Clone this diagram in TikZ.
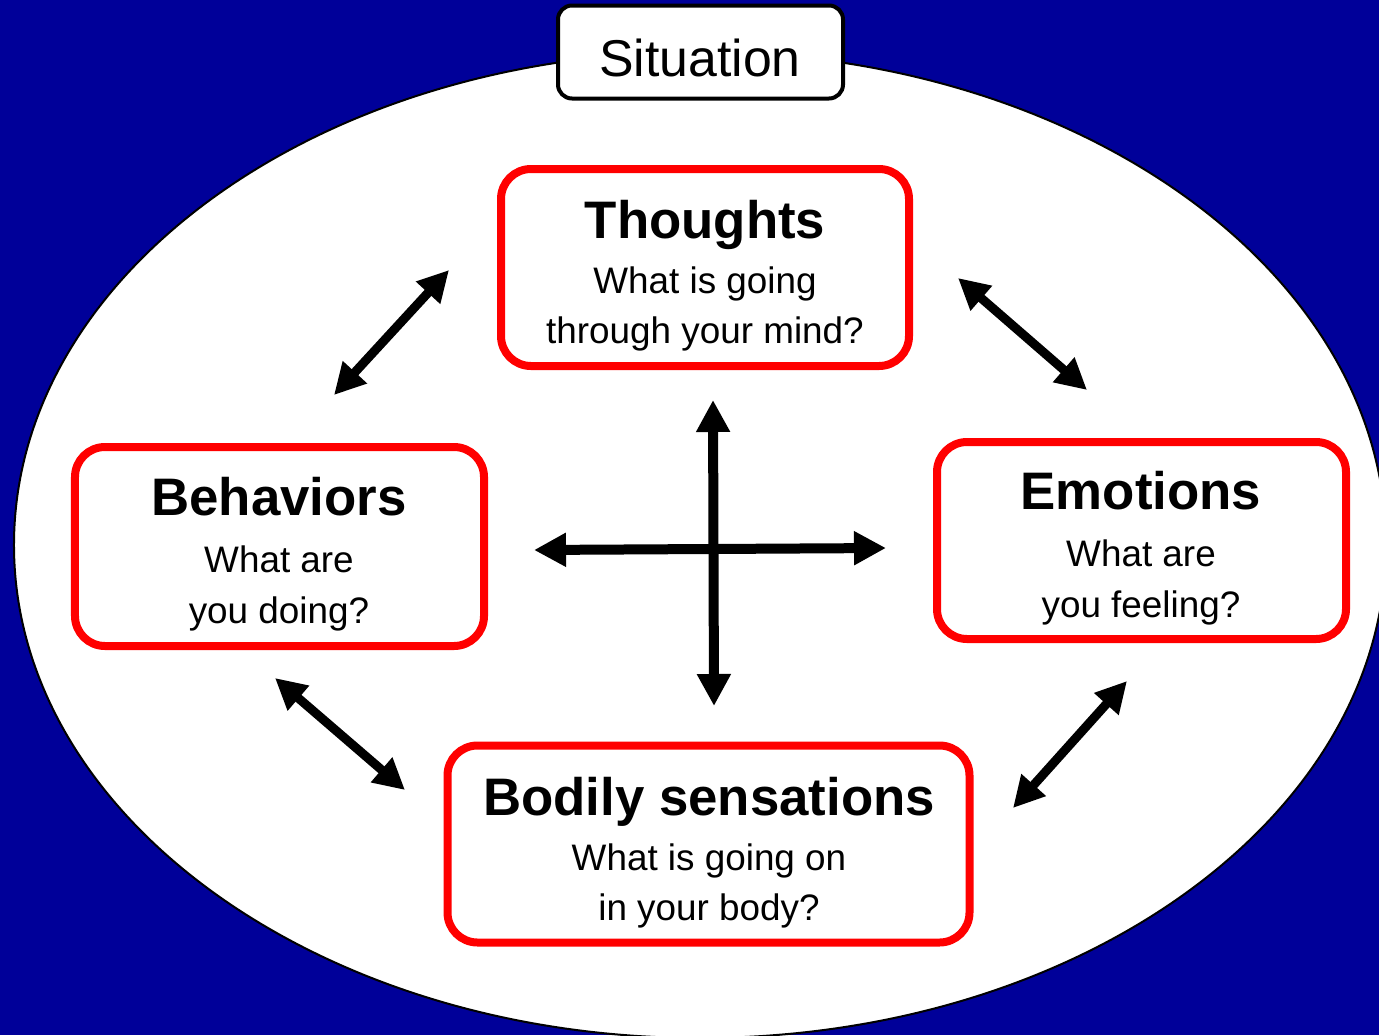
\documentclass[tikz,border=0pt]{standalone}
\usepackage{fontspec}
\setmainfont{Liberation Sans}
\usetikzlibrary{arrows.meta,shapes.geometric,calc}
\definecolor{bgblue}{RGB}{0,0,153}
\definecolor{boxred}{RGB}{255,0,0}
\tikzset{
  redbox/.style={draw=boxred, line width=8bp, rounded corners=30bp, fill=white, inner sep=0pt},
  sitbox/.style={draw=black, line width=4bp, rounded corners=14bp, fill=white, inner sep=0pt},
  ttl/.style={anchor=base, inner sep=0pt, font=\fontsize{53}{60}\selectfont\bfseries},
  sub/.style={anchor=base, inner sep=0pt, font=\fontsize{37}{50}\selectfont},
  sit/.style={anchor=base, inner sep=0pt, font=\fontsize{52}{60}\selectfont},
  dbl/.style={line width=9bp, {Triangle[length=31bp,width=31bp]}-{Triangle[length=31bp,width=31bp]}},
  cross/.style={line width=10bp, {Triangle[length=32bp,width=32bp]}-{Triangle[length=32bp,width=32bp]}},
}
\begin{document}
\begin{tikzpicture}[x=1bp,y=-1bp]
\useasboundingbox (0,0) rectangle (1379,1035);
\clip (0,0) rectangle (1379,1035);
\fill[bgblue] (0,0) rectangle (1379,1035);
\node[ellipse, draw=black, line width=2bp, fill=white, minimum width=1372bp, minimum height=986bp, inner sep=0pt] (frame) at (700,545) {};

% Situation
\node[sitbox, minimum width=285bp, minimum height=93bp] (situation) at (700.5,52) {};
\node[sit] (situationT) at (700,76) {Situation};

% Thoughts
\node[redbox, minimum width=408bp, minimum height=197bp] (thoughts) at (705,267.5) {};
\node[ttl] (thoughtsT) at (705,238) {Thoughts};
\node[sub] (thoughtsA) at (705,293) {What is going};
\node[sub] (thoughtsB) at (705,343) {through your mind?};

% Behaviors
\node[redbox, minimum width=409bp, minimum height=199bp] (behaviors) at (279.5,546.5) {};
\node[ttl] (behaviorsT) at (279,515) {Behaviors};
\node[sub] (behaviorsA) at (279,572) {What are};
\node[sub] (behaviorsB) at (279,623) {you doing?};

% Emotions
\node[redbox, minimum width=409bp, minimum height=197bp] (emotions) at (1141.5,540.5) {};
\node[ttl] (emotionsT) at (1141,509) {Emotions};
\node[sub] (emotionsA) at (1141,566) {What are};
\node[sub] (emotionsB) at (1141,617) {you feeling?};

% Bodily sensations
\node[redbox, minimum width=522bp, minimum height=197bp] (bodily) at (708.5,844) {};
\node[ttl] (bodilyT) at (709,815) {Bodily sensations};
\node[sub] (bodilyA) at (709,870) {What is going on};
\node[sub] (bodilyB) at (709,920) {in your body?};

% arrow end points
\coordinate (tb1) at (449,270);
\coordinate (tb2) at (334,395);
\coordinate (te1) at (958,278);
\coordinate (te2) at (1087,390);
\coordinate (bb1) at (275,678);
\coordinate (bb2) at (405,790);
\coordinate (eb1) at (1127,681);
\coordinate (eb2) at (1013,808);
\coordinate (vt) at (713,400);
\coordinate (vb) at (714,706);
\coordinate (hl) at (534,550);
\coordinate (hr) at (886,548);

\draw[dbl] (tb2) -- (tb1);
\draw[dbl] (te1) -- (te2);
\draw[dbl] (bb1) -- (bb2);
\draw[dbl] (eb2) -- (eb1);
\draw[cross] (vt) -- (vb);
\draw[cross] (hl) -- (hr);
\end{tikzpicture}
\end{document}
